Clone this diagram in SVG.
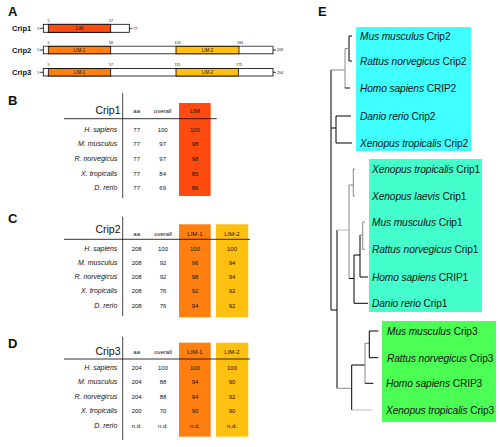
<svg xmlns="http://www.w3.org/2000/svg" width="500" height="447" viewBox="0 0 500 447">
<style>
text{font-family:"Liberation Sans",Arial,sans-serif;fill:#111}
.pl{font-size:13px;font-weight:bold}
.rl{font-size:7.5px;font-weight:bold}
.tn{font-size:3.6px}
.dl{font-size:4.5px;text-anchor:middle}
.bx{fill:#fff;stroke:#000;stroke-width:0.8}
.ln{stroke:#000;stroke-width:0.8;fill:none}
.tt{font-size:10.5px;text-anchor:end}
.hd{font-size:6px;text-anchor:middle}
.sp{font-size:7px;font-style:italic;text-anchor:end}
.v{font-size:6px;text-anchor:middle}
.lf{font-size:10.2px;letter-spacing:-0.1px}
.it{font-style:italic}
.tr{stroke:#000;stroke-width:1;fill:none}
.tg{stroke:#888;stroke-width:1;fill:none}
.tl{stroke:#bbb;stroke-width:1;fill:none}
.red{fill:#ff4a10}
.org{fill:#ff8010}
.yel{fill:#ffc010}
</style>

<!-- Panel A -->
<g id="panelA">
<text class="pl" x="8" y="16">A</text>
<g id="crip1-domain">
<text class="rl" x="12" y="31">Crip1</text>
<text class="tn" x="37" y="29.6">1</text>
<line class="ln" x1="39.5" y1="28.3" x2="43.3" y2="28.3"/>
<rect class="bx" x="43.3" y="24.3" width="86" height="8"/>
<rect class="red" x="48.3" y="24.3" width="62.4" height="8" stroke="#000" stroke-width="0.8"/>
<text class="dl" x="79.5" y="30">LIM</text>
<text class="tn" x="47.5" y="22.3">5</text>
<text class="tn" x="109" y="22.3">57</text>
<line class="ln" x1="129.3" y1="28.3" x2="132.5" y2="28.3"/>
<text class="tn" x="133.5" y="29.6">77</text>
</g>
<g id="crip2-domain">
<text class="rl" x="12" y="53">Crip2</text>
<text class="tn" x="37" y="51.3">1</text>
<line class="ln" x1="39.5" y1="50" x2="43.3" y2="50"/>
<rect class="bx" x="43.3" y="46.3" width="229.7" height="7.5"/>
<line x1="43.3" y1="46.3" x2="273" y2="46.3" stroke="#888" stroke-width="0.9"/>
<rect class="org" x="48.3" y="46.3" width="62.4" height="7.5" stroke="#000" stroke-width="0.8"/>
<rect class="yel" x="176" y="46.3" width="63" height="7.5" stroke="#000" stroke-width="0.8"/>
<text class="dl" x="79.5" y="51.8">LIM-1</text>
<text class="dl" x="207.5" y="51.8">LIM-2</text>
<text class="tn" x="47.5" y="44.2">5</text>
<text class="tn" x="109" y="44.2">58</text>
<text class="tn" x="174.5" y="44.2">124</text>
<text class="tn" x="237" y="44.2">184</text>
<line class="ln" x1="273" y1="50" x2="276" y2="50"/>
<text class="tn" x="277" y="51.3">208</text>
</g>
<g id="crip3-domain">
<text class="rl" x="12" y="75">Crip3</text>
<text class="tn" x="37" y="73.5">1</text>
<line class="ln" x1="39.5" y1="72.3" x2="43.3" y2="72.3"/>
<rect class="bx" x="43.3" y="68.5" width="229.7" height="7.5"/>
<rect class="org" x="48.3" y="68.5" width="62.4" height="7.5" stroke="#000" stroke-width="0.8"/>
<rect class="yel" x="176" y="68.5" width="62.3" height="7.5" stroke="#000" stroke-width="0.8"/>
<text class="dl" x="79.5" y="74">LIM-1</text>
<text class="dl" x="207.5" y="74">LIM-2</text>
<text class="tn" x="47.5" y="66.2">5</text>
<text class="tn" x="109" y="66.2">57</text>
<text class="tn" x="174.5" y="66.2">115</text>
<text class="tn" x="236" y="66.2">175</text>
<line class="ln" x1="273" y1="72.3" x2="276" y2="72.3"/>
<text class="tn" x="277" y="73.5">204</text>
</g>
</g>

<!-- Panel B -->
<g id="tableB">
<text class="pl" x="8" y="105">B</text>
<rect class="red" x="179" y="103" width="31.7" height="93"/>
<line x1="122.7" y1="93" x2="122.7" y2="198" stroke="#333" stroke-width="0.9"/>
<line class="ln" x1="64" y1="118.7" x2="216.7" y2="118.7"/>
<text class="tt" x="120.5" y="114">Crip1</text>
<text class="hd" x="136.7" y="113">aa</text>
<text class="hd" x="162.7" y="113">overall</text>
<text class="hd" x="195" y="113">LIM</text>
<text class="sp" x="117.3" y="131.5">H. sapiens</text>
<text class="v" x="136.7" y="131.5">77</text><text class="v" x="162.7" y="131.5">100</text><text class="v" x="195" y="131.5">100</text>
<text class="sp" x="117.3" y="146">M. musculus</text>
<text class="v" x="136.7" y="146">77</text><text class="v" x="162.7" y="146">97</text><text class="v" x="195" y="146">98</text>
<text class="sp" x="117.3" y="161">R. norvegicus</text>
<text class="v" x="136.7" y="161">77</text><text class="v" x="162.7" y="161">97</text><text class="v" x="195" y="161">98</text>
<text class="sp" x="117.3" y="175.5">X. tropicalis</text>
<text class="v" x="136.7" y="175.5">77</text><text class="v" x="162.7" y="175.5">84</text><text class="v" x="195" y="175.5">85</text>
<text class="sp" x="117.3" y="189.5">D. rerio</text>
<text class="v" x="136.7" y="189.5">77</text><text class="v" x="162.7" y="189.5">69</text><text class="v" x="195" y="189.5">86</text>
</g>

<!-- Panel C -->
<g id="tableC">
<text class="pl" x="8" y="223">C</text>
<rect class="org" x="179" y="224.3" width="31.7" height="93"/>
<rect class="yel" x="216" y="224.3" width="32.3" height="93"/>
<line x1="122.7" y1="216.7" x2="122.7" y2="316" stroke="#333" stroke-width="0.9"/>
<line class="ln" x1="64" y1="239.3" x2="250" y2="239.3"/>
<text class="tt" x="120.5" y="232.5">Crip2</text>
<text class="hd" x="136.7" y="235.5">aa</text>
<text class="hd" x="163" y="235.5">overall</text>
<text class="hd" x="195" y="235.5">LIM-1</text>
<text class="hd" x="232" y="235.5">LIM-2</text>
<text class="sp" x="117.3" y="250.5">H. sapiens</text>
<text class="v" x="136.7" y="250.5">208</text><text class="v" x="163" y="250.5">100</text><text class="v" x="195" y="250.5">100</text><text class="v" x="232" y="250.5">100</text>
<text class="sp" x="117.3" y="265">M. musculus</text>
<text class="v" x="136.7" y="265">208</text><text class="v" x="163" y="265">92</text><text class="v" x="195" y="265">96</text><text class="v" x="232" y="265">94</text>
<text class="sp" x="117.3" y="279">R. norvegicus</text>
<text class="v" x="136.7" y="279">208</text><text class="v" x="163" y="279">92</text><text class="v" x="195" y="279">98</text><text class="v" x="232" y="279">94</text>
<text class="sp" x="117.3" y="293">X. tropicalis</text>
<text class="v" x="136.7" y="293">208</text><text class="v" x="163" y="293">76</text><text class="v" x="195" y="293">92</text><text class="v" x="232" y="293">92</text>
<text class="sp" x="117.3" y="307.5">D. rerio</text>
<text class="v" x="136.7" y="307.5">208</text><text class="v" x="163" y="307.5">76</text><text class="v" x="195" y="307.5">94</text><text class="v" x="232" y="307.5">92</text>
</g>

<!-- Panel D -->
<g id="tableD">
<text class="pl" x="8" y="348">D</text>
<rect class="org" x="179" y="342.7" width="31.7" height="94"/>
<rect class="yel" x="216" y="342.7" width="32.3" height="94"/>
<line x1="122.7" y1="336.7" x2="122.7" y2="440" stroke="#333" stroke-width="0.9"/>
<line class="ln" x1="64" y1="359" x2="250" y2="359"/>
<text class="tt" x="120.5" y="355">Crip3</text>
<text class="hd" x="136.7" y="354">aa</text>
<text class="hd" x="163" y="354">overall</text>
<text class="hd" x="195" y="354">LIM-1</text>
<text class="hd" x="232" y="354">LIM-2</text>
<text class="sp" x="117.3" y="369.5">H. sapiens</text>
<text class="v" x="136.7" y="369.5">204</text><text class="v" x="163" y="369.5">100</text><text class="v" x="195" y="369.5">100</text><text class="v" x="232" y="369.5">100</text>
<text class="sp" x="117.3" y="384">M. musculus</text>
<text class="v" x="136.7" y="384">204</text><text class="v" x="163" y="384">88</text><text class="v" x="195" y="384">94</text><text class="v" x="232" y="384">90</text>
<text class="sp" x="117.3" y="398.5">R. norvegicus</text>
<text class="v" x="136.7" y="398.5">204</text><text class="v" x="163" y="398.5">88</text><text class="v" x="195" y="398.5">94</text><text class="v" x="232" y="398.5">92</text>
<text class="sp" x="117.3" y="413">X. tropicalis</text>
<text class="v" x="136.7" y="413">200</text><text class="v" x="163" y="413">70</text><text class="v" x="195" y="413">90</text><text class="v" x="232" y="413">90</text>
<text class="sp" x="117.3" y="428">D. rerio</text>
<text class="v" x="136.7" y="428">n.d.</text><text class="v" x="163" y="428">n.d.</text><text class="v" x="195" y="428">n.d.</text><text class="v" x="232" y="428">n.d.</text>
</g>

<!-- Panel E -->
<text class="pl" x="318" y="16">E</text>
<rect x="356" y="27" width="115" height="124" fill="#40ffff"/>
<rect x="369" y="159" width="113" height="153" fill="#44ffcc"/>
<rect x="382" y="321" width="114" height="101" fill="#4cff55"/>

<g id="connectors">
<path class="tr" d="M349,36H352M349,61H352M349,36V61"/>
<path class="tg" d="M345,48.5H349M345,48.5V88M331,70H345"/>
<path class="tr" d="M345,88H350"/>
<path class="tr" d="M336,116H351M336,143H352M336,116V143M331,128H336"/>
<path class="tr" d="M331,70V310M331,310H337M337,230V388.3"/>
<path class="tl" d="M337,230H349"/>
<path class="tg" d="M349,185V278.5M349,185H353.3M353.3,169V196M353.3,169H355M353.3,196H355"/>
<path class="tr" d="M349,278.5H354M354,255V303.3M354,303.3H368M354,255H360M360,235V277M360,277H368"/>
<path class="tg" d="M360,235H362.7M362.7,222V249.3M362.7,222H365M362.7,249.3H365"/>
<path class="tg" d="M337,388.3H351.7"/>
<path class="tr" d="M351.7,365V410M351.7,365H365"/>
<path class="tl" d="M351.7,410H371.7"/>
<path class="tg" d="M365,343.3V383.3M365,343.3H369.3"/>
<path class="tr" d="M365,383.3H373.3M369.3,331V357.7M369.3,331H378.3M369.3,357.7H378.3"/>
</g>

<g id="leaf-mm-crip2"><text class="lf" x="360" y="40"><tspan class="it">Mus musculus</tspan> Crip2</text></g>
<g id="leaf-rn-crip2"><text class="lf" x="360" y="65"><tspan class="it">Rattus norvegicus</tspan> Crip2</text></g>
<g id="leaf-hs-crip2"><text class="lf" x="360" y="92"><tspan class="it">Homo sapiens</tspan> CRIP2</text></g>
<g id="leaf-dr-crip2"><text class="lf" x="360" y="120"><tspan class="it">Danio rerio</tspan> Crip2</text></g>
<g id="leaf-xt-crip2"><text class="lf" x="360" y="147"><tspan class="it">Xenopus tropicalis</tspan> Crip2</text></g>

<g id="leaf-xt-crip1"><text class="lf" x="372" y="173"><tspan class="it">Xenopus tropicalis</tspan> Crip1</text></g>
<g id="leaf-xl-crip1"><text class="lf" x="372" y="200"><tspan class="it">Xenopus laevis</tspan> Crip1</text></g>
<g id="leaf-mm-crip1"><text class="lf" x="372" y="226"><tspan class="it">Mus musculus</tspan> Crip1</text></g>
<g id="leaf-rn-crip1"><text class="lf" x="372" y="253"><tspan class="it">Rattus norvegicus</tspan> Crip1</text></g>
<g id="leaf-hs-crip1"><text class="lf" x="372" y="281"><tspan class="it">Homo sapiens</tspan> CRIP1</text></g>
<g id="leaf-dr-crip1"><text class="lf" x="372" y="307"><tspan class="it">Danio rerio</tspan> Crip1</text></g>

<g id="leaf-mm-crip3"><text class="lf" x="387" y="335"><tspan class="it">Mus musculus</tspan> Crip3</text></g>
<g id="leaf-rn-crip3"><text class="lf" x="387" y="362"><tspan class="it">Rattus norvegicus</tspan> Crip3</text></g>
<g id="leaf-hs-crip3"><text class="lf" x="386" y="387"><tspan class="it">Homo sapiens</tspan> CRIP3</text></g>
<g id="leaf-xt-crip3"><text class="lf" x="386" y="414"><tspan class="it">Xenopus tropicalis</tspan> Crip3</text></g>
</svg>
